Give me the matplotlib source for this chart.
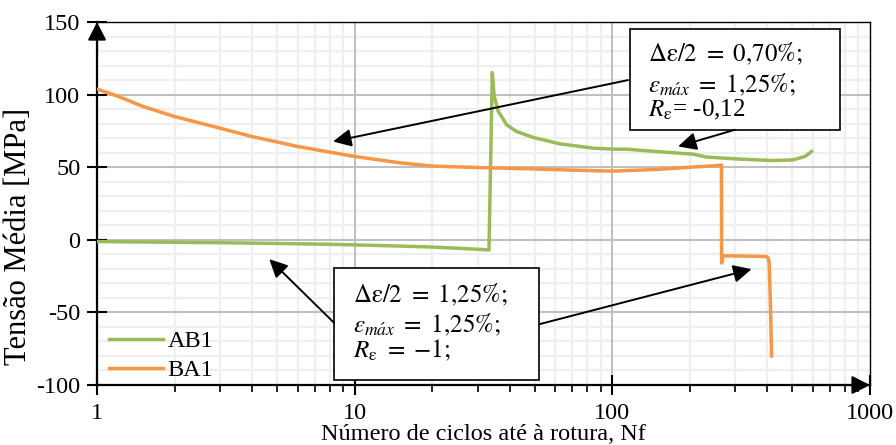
import matplotlib
matplotlib.use("Agg")
import matplotlib.pyplot as plt
from matplotlib.patches import Rectangle
from matplotlib.ticker import FixedLocator, NullLocator

plt.rcParams["font.family"] = ["Liberation Serif", "DejaVu Serif"]
plt.rcParams["mathtext.fontset"] = "stix"
plt.rcParams["axes.unicode_minus"] = False

# AB1 mean stress per cycle
ab1_n = [1, 2, 3, 5, 8, 10, 15, 20, 25, 30, 33.2, 34.2, 34.8, 36.1, 38.9, 42.5,
         49.3, 62.6, 84.3, 104, 113.6, 148.5, 206, 232, 313, 421, 504, 559, 593]
ab1_s = [-1.2, -1.7, -2.0, -2.5, -3.1, -3.5, -4.3, -5.0, -5.8, -6.5, -7.0, 115.2, 98.7,
         88.4, 79.2, 74.6, 70.5, 66.1, 63.1, 62.4, 62.4, 60.8, 59.0, 57.0, 55.6,
         54.6, 55.1, 57.4, 60.8]

# BA1 mean stress per cycle
ba1_n = [1, 1.2, 1.5, 2, 2.5, 3, 4, 6, 10, 15, 20, 30, 50, 70, 100, 150, 200, 250,
         265, 265.5, 268.6, 330, 397, 403, 406, 410, 415]
ba1_s = [103.8, 99.0, 92.0, 84.9, 80.5, 76.9, 71.1, 64.3, 57.4, 53.0, 50.8, 49.8,
         48.8, 48.0, 47.3, 48.5, 50.0, 51.0, 51.5, -16.0, -11.0, -11.2, -11.5,
         -12.5, -16.0, -40.0, -80.0]

series_names = ["AB1", "BA1"]
series_colors = ["#9BBB59", "#F79646"]

x_ticks = [1, 10, 100, 1000]
x_tick_labels = ["1", "10", "100", "1000"]
y_ticks = [-100, -50, 0, 50, 100, 150]

box_top = [r"$\Delta\mathrm{ε}/2\ =\ 0{,}70\%;$",
           r"$\varepsilon_{m\acute{a}x}\ =\ 1{,}25\%;$",
           r"$R_{\mathrm{ε}}$= -0,12"]
box_bottom = [r"$\Delta\mathrm{ε}/2\ =\ 1{,}25\%;$",
              r"$\varepsilon_{m\acute{a}x}\ =\ 1{,}25\%;$",
              r"$R_{\mathrm{ε}}\ =\ {-}1;$"]

fig = plt.figure(figsize=(8.96, 4.45), dpi=100)
ax = fig.add_axes([0.1083, 0.1348, 0.8627, 0.8157])

ax.set_xscale("log")
ax.set_xlim(1, 1000)
ax.set_ylim(-100, 150)

ax.xaxis.set_major_locator(FixedLocator(x_ticks))
ax.set_xticklabels(x_tick_labels)
minor_x = [m * d for d in (1, 10, 100) for m in range(2, 10)]
ax.xaxis.set_minor_locator(FixedLocator(minor_x))
ax.set_yticks(y_ticks)
ax.yaxis.set_minor_locator(NullLocator())

# grid drawn by hand so the major lines sit on top of the minor ones
for v in range(-100, 151, 10):
    if v % 50:
        ax.axhline(v, color="#EFEFEF", lw=1.6, zorder=0.5)
for v in minor_x:
    ax.axvline(v, color="#EFEFEF", lw=1.6, zorder=0.5)
for v in y_ticks[1:-1]:
    ax.axhline(v, color="#BFBFBF", lw=1.4, zorder=0.6)
for v in x_ticks[1:-1]:
    ax.axvline(v, color="#BFBFBF", lw=1.4, zorder=0.6)

ax.tick_params(axis="both", which="major", direction="inout", length=14, width=1.5,
               labelsize=17.5, color="black")
ax.tick_params(axis="x", which="major", pad=6)
ax.tick_params(axis="y", which="major", pad=5)
ax.tick_params(axis="x", which="minor", direction="out", length=5, width=1.2)

for side in ["left", "bottom"]:
    ax.spines[side].set_linewidth(1.6)
for side in ["top", "right"]:
    ax.spines[side].set_linewidth(1.0)

for n, s, name, c in zip([ab1_n, ba1_n], [ab1_s, ba1_s], series_names, series_colors):
    ax.plot(n, s, color=c, lw=2.5, label=name, zorder=3, solid_joinstyle="round")

# axis arrow heads
arrow_kw = dict(arrowstyle="-|>,head_length=0.55,head_width=0.28", color="black",
                lw=1.5, shrinkA=0, shrinkB=0, mutation_scale=20)
ax.annotate("", xy=(0, 1), xytext=(0, 0.9), xycoords="axes fraction",
            arrowprops=arrow_kw, annotation_clip=False)
ax.annotate("", xy=(1, 0), xytext=(0.9, 0), xycoords="axes fraction",
            arrowprops=arrow_kw, annotation_clip=False)

# annotation boxes
ax.add_patch(Rectangle((0.6895, 0.7025), 0.2715, 0.2775, transform=ax.transAxes,
                       facecolor="white", edgecolor="black", lw=1.2, zorder=5))
ax.add_patch(Rectangle((0.307, 0.0138), 0.265, 0.3077, transform=ax.transAxes,
                       facecolor="white", edgecolor="black", lw=1.2, zorder=5))
for txt, yy in zip(box_top, [0.911, 0.828, 0.758]):
    ax.text(0.7132, yy, txt, transform=ax.transAxes, fontsize=18, ha="left",
            va="center", zorder=6)
for txt, yy in zip(box_bottom, [0.248, 0.167, 0.096]):
    ax.text(0.3316, yy, txt, transform=ax.transAxes, fontsize=18, ha="left",
            va="center", zorder=6)

# leader arrows from the boxes to the curves
lead_kw = dict(arrowstyle="-|>,head_length=0.55,head_width=0.27", color="black",
               lw=1.4, shrinkA=0, shrinkB=0, mutation_scale=20)
ax.annotate("", xy=(8.24, 67.7), xytext=(115, 110), arrowprops=lead_kw, zorder=7)
ax.annotate("", xy=(180, 64.3), xytext=(299, 75.8), arrowprops=lead_kw, zorder=7)
ax.annotate("", xy=(4.66, -13.3), xytext=(8.3, -57), arrowprops=lead_kw, zorder=7)
ax.annotate("", xy=(347, -20.2), xytext=(52.4, -58), arrowprops=lead_kw, zorder=7)

ax.legend(loc="lower left", bbox_to_anchor=(0.016, 0.01), frameon=False,
          fontsize=17.5, handlelength=2.2, handletextpad=0.2, labelspacing=0.3,
          borderpad=0, borderaxespad=0)

ax.set_xlabel("Número de ciclos até à rotura, Nf", fontsize=17.5, labelpad=0)
ax.set_ylabel("Tensão Média [MPa]", fontsize=22)
ax.yaxis.set_label_coords(-0.083, 0.41)

fig.savefig("out.png", dpi=100)
